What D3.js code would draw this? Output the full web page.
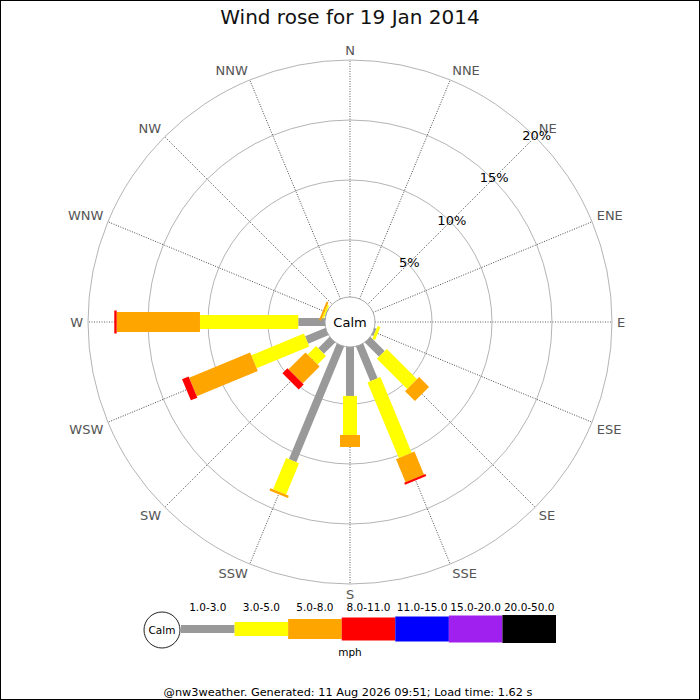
<!DOCTYPE html>
<html><head><meta charset="utf-8">
<script src="https://cdn.jsdelivr.net/npm/d3@7"></script>
<style>body{margin:0;background:#fff}svg{display:block}text{font-family:"DejaVu Sans",sans-serif}</style>
</head><body>
<svg id="c" width="700" height="700"></svg>
<script>
// ---- data ----
const directions = ["N","NNE","NE","ENE","E","ESE","SE","SSE","S","SSW","SW","WSW","W","WNW","NW","NNW"];
const speedBins = ["1.0-3.0","3.0-5.0","5.0-8.0","8.0-11.0","11.0-15.0","15.0-20.0","20.0-50.0"];
const binColors = ["#999999","#ffff00","#ffa500","#ff0000","#0000ff","#a020f0","#000000"];
// percent of observations per direction (N..NNW), one array per speed bin
const bin1 = [0,0,0,0,0,0.42,1.92,3.38,4.33,10.67,1.58,2.08,2.48,0.30,0,0];
const bin2 = [0,0,0,0,0,0.25,3.57,6.82,3.25,2.83,1.00,4.75,8.19,0.15,0,0];
const bin3 = [0,0,0,0,0,0,1.16,2.08,1.00,0.20,2.00,5.50,6.94,0.17,0,0];
const bin4 = [0,0,0,0,0,0,0,0.18,0,0,0.59,0.59,0.20,0,0,0];
const bin5 = [0,0,0,0,0,0,0,0,0,0,0,0,0,0,0,0];
const bin6 = [0,0,0,0,0,0,0,0,0,0,0,0,0,0,0,0];
const bin7 = [0,0,0,0,0,0,0,0,0,0,0,0,0,0,0,0];
const ringTicks = [5,10,15,20];
const titleText = "Wind rose for 19 Jan 2014";
const unitText = "mph";
const calmText = "Calm";
const footerText = "@nw3weather. Generated: 11 Aug 2026 09:51; Load time: 1.62 s";

// ---- layout ----
const binSeries = [bin1,bin2,bin3,bin4,bin5,bin6,bin7];
const barWidths = [8,14,20,23,25,27,28];
const cx = 350, cy = 322, calmR = 25;
const svg = d3.select("#c");
svg.append("rect").attr("x",0.5).attr("y",0.5).attr("width",699).attr("height",699)
   .attr("fill","#fff").attr("stroke","#000").attr("stroke-width",1);

svg.append("text").attr("x",350).attr("y",24).attr("text-anchor","middle")
   .attr("font-size",20).attr("fill","#111").text(titleText);

const r = d3.scaleLinear().domain([0,20]).range([22,262]);
const ang = d3.scaleLinear().domain([0,directions.length]).range([0,360]);
const g = svg.append("g").attr("transform",`translate(${cx},${cy})`);

// rings
g.selectAll("circle.ring").data(ringTicks).join("circle").attr("class","ring")
  .attr("r",d=>r(d)).attr("fill","none").attr("stroke","#b4b4b4").attr("stroke-width",1);

// spokes
g.selectAll("line.spoke").data(directions).join("line").attr("class","spoke")
  .attr("x1",0).attr("y1",0).attr("x2",0).attr("y2",-r(20))
  .attr("transform",(d,i)=>`rotate(${ang(i)})`)
  .attr("stroke","#333").attr("stroke-width",0.8).attr("stroke-dasharray","1,1.5");

// stacked bars
const rows = directions.map((d,i)=>{const o={dir:d}; speedBins.forEach((b,j)=>o[b]=binSeries[j][i]); return o;});
const stacked = d3.stack().keys(speedBins)(rows);
stacked.forEach((series,j)=>{
  g.append("g").selectAll("rect").data(series.filter(s=>s[1]-s[0]>0)).join("rect")
    .attr("transform",d=>`rotate(${ang(directions.indexOf(d.data.dir))})`)
    .attr("x",-barWidths[j]/2).attr("width",barWidths[j])
    .attr("y",d=>-r(d[1])).attr("height",d=>r(d[1])-r(d[0]))
    .attr("fill",binColors[j]);
});

// calm circle
g.append("circle").attr("r",calmR).attr("fill","#fff").attr("stroke","#aaa").attr("stroke-width",1);
g.append("text").attr("text-anchor","middle").attr("dy","0.36em").attr("font-size",13).attr("fill","#000").text(calmText);

// direction labels
const lr = 267;
g.selectAll("text.dir").data(directions).join("text").attr("class","dir")
  .each(function(d,i){
    const a = ang(i)*Math.PI/180, s=Math.sin(a), c=Math.cos(a);
    const x = lr*s, y = -lr*c;
    const anchor = Math.abs(s)<0.05 ? "middle" : (s>0 ? "start" : "end");
    let dy;
    if (c>0.3) dy = 0; else if (c<-0.3) dy = 9.5; else dy = 4.8;
    d3.select(this).attr("x",x).attr("y",y+dy).attr("text-anchor",anchor);
  })
  .attr("font-size",13).attr("fill","#555").text(d=>d);

// percent labels
g.selectAll("text.pct").data(ringTicks).join("text").attr("class","pct")
  .attr("x",d=>(r(d)+2)*Math.SQRT1_2).attr("y",d=>-(r(d)+2)*Math.SQRT1_2)
  .attr("dy","0.36em").attr("text-anchor","middle").attr("font-size",13).attr("fill","#000")
  .text(d=>d+"%");

// legend
const lx = d3.scaleBand().domain(speedBins).range([181,556]);
const ly = 629;
svg.append("circle").attr("cx",162).attr("cy",ly+1).attr("r",18).attr("fill","#fff").attr("stroke","#222").attr("stroke-width",1);
svg.append("text").attr("x",162).attr("y",ly+1).attr("dy","0.36em").attr("text-anchor","middle").attr("font-size",10.5).text(calmText);
svg.selectAll("rect.leg").data(speedBins).join("rect").attr("class","leg")
  .attr("x",d=>lx(d)).attr("width",lx.bandwidth())
  .attr("y",(d,i)=>ly-barWidths[i]/2).attr("height",(d,i)=>barWidths[i])
  .attr("fill",(d,i)=>binColors[i]);
svg.selectAll("text.leg").data(speedBins).join("text").attr("class","leg")
  .attr("x",d=>lx(d)+lx.bandwidth()/2).attr("y",611).attr("text-anchor","middle")
  .attr("font-size",10.5).attr("fill","#000").text(d=>d);
svg.append("text").attr("x",350).attr("y",656).attr("text-anchor","middle").attr("font-size",10.5).text(unitText);

svg.append("text").attr("x",348).attr("y",695.5).attr("text-anchor","middle").attr("font-size",11.3).attr("fill","#000").text(footerText);
</script>
</body></html>
